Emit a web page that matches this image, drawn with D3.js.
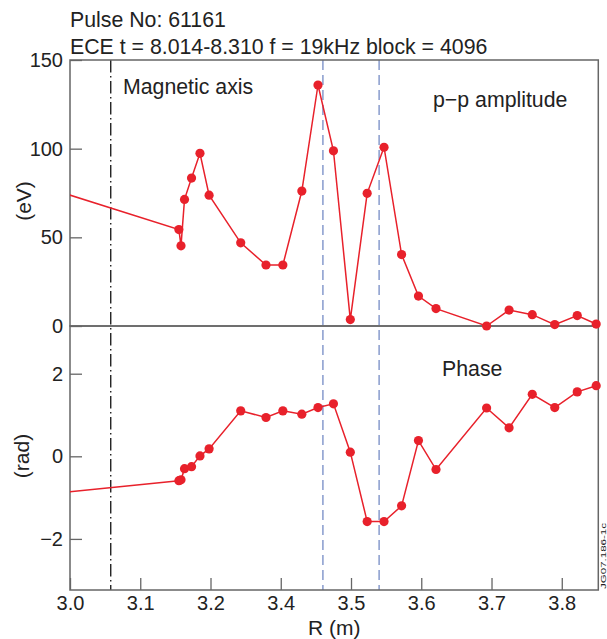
<!DOCTYPE html>
<html lang="en">
<head>
    <meta charset="utf-8">
    <script src='https://d3js.org/d3.v7.min.js'> </script>
    <title>ECE p-p amplitude and phase</title>
    <style>
      body { margin: 0; background: #fff; }
      text { font-family: "Liberation Sans", Arial, sans-serif; fill: #222; }
    </style>
</head>
<body>
<script>
// ECE channels: major radius (m), p-p amplitude (eV), phase (rad)
// first point sits left of the plotted range, only its line shows
const radius = [3.000, 3.255, 3.258, 3.263, 3.273, 3.285, 3.298, 3.343, 3.379, 3.403,
                3.430, 3.453, 3.475, 3.499, 3.523, 3.547, 3.572, 3.596, 3.621, 3.693,
                3.725, 3.758, 3.790, 3.822, 3.849];
const amplitude = [86.3, 54.4, 45.2, 71.4, 83.4, 97.4, 73.8, 46.9, 34.4, 34.4,
                   76.1, 135.9, 98.8, 3.6, 74.8, 100.8, 40.3, 16.9, 9.8, 0.0,
                   9.0, 6.4, 0.8, 5.9, 1.1];
const phase = [-1.03, -0.59, -0.57, -0.30, -0.25, 0.01, 0.18, 1.10, 0.94, 1.10,
               1.02, 1.18, 1.27, 0.10, -1.58, -1.58, -1.20, 0.38, -0.32, 1.17,
               0.69, 1.50, 1.18, 1.56, 1.71];

// vertical markers
const magAxis = 3.158;
const modeLines = [3.46, 3.54];

// tick labels as printed on the original figure
const xTicks = [3.1, 3.2, 3.3, 3.4, 3.5, 3.6, 3.7, 3.8];
const xTickLabels = ["3.0", "3.1", "3.2", "3.4", "3.5", "3.6", "3.7", "3.8"];
const ampTicks = [0, 50, 100, 150];
const phaseTicks = [-2, 0, 2];

const data = radius.map(function(r, i) {
  return {r: r, amp: amplitude[i], ph: phase[i]};
});

// layout
const pLeft = 70, pRight = 598.3, pTop = 60, pMid = 326, pBottom = 590;
const red = "#e8212b", frameCol = "#666";

var svg = d3.select("body").append("svg")
    .attr("width", 607)
    .attr("height", 639);

var x = d3.scaleLinear().domain([3.1, 3.852]).range([pLeft, pRight]);
var yAmp = d3.scaleLinear().domain([0, 150]).range([pMid, pTop]);
var yPh = d3.scaleLinear().domain([-3.237, 3.155]).range([pBottom, pMid]);

svg.append("clipPath").attr("id", "clip")
  .append("rect")
    .attr("x", pLeft).attr("y", pTop)
    .attr("width", pRight - pLeft).attr("height", pBottom - pTop);

// titles
svg.append("text").attr("x", 70).attr("y", 27)
  .style("font-size", "21.3px").text("Pulse No: 61161");
svg.append("text").attr("x", 70).attr("y", 54)
  .style("font-size", "21.3px").text("ECE t = 8.014-8.310 f = 19kHz block = 4096");

// vertical markers
svg.append("line")
  .attr("x1", x(magAxis)).attr("x2", x(magAxis))
  .attr("y1", pTop).attr("y2", pBottom)
  .attr("stroke", "#111").attr("stroke-width", 1.3)
  .attr("stroke-dasharray", "12.5,3.5,1.5,3.5");

svg.selectAll(".mode").data(modeLines).enter().append("line")
  .attr("class", "mode")
  .attr("x1", function(d) { return x(d); })
  .attr("x2", function(d) { return x(d); })
  .attr("y1", pTop).attr("y2", pBottom)
  .attr("stroke", "#7f94c9").attr("stroke-width", 1.4)
  .attr("stroke-dasharray", "10,5");

// axes with inward ticks
function styleAxis(g) {
  g.select(".domain").remove();
  g.selectAll(".tick line").attr("stroke", frameCol).attr("stroke-width", 1.3);
  g.selectAll(".tick text").style("font-size", "20px").attr("fill", "#222");
}

svg.append("g")
  .attr("transform", "translate(" + pLeft + ",0)")
  .call(d3.axisLeft(yAmp).tickValues(ampTicks).tickSizeInner(-12).tickSizeOuter(0).tickPadding(7))
  .call(styleAxis);

svg.append("g")
  .attr("transform", "translate(" + pLeft + ",0)")
  .call(d3.axisLeft(yPh).tickValues(phaseTicks).tickFormat(d3.format("d"))
    .tickSizeInner(-12).tickSizeOuter(0).tickPadding(7))
  .call(styleAxis);

svg.append("g")
  .attr("transform", "translate(0," + pBottom + ")")
  .call(d3.axisBottom(x).tickValues(xTicks)
    .tickFormat(function(d, i) { return xTickLabels[i]; })
    .tickSizeInner(-12).tickSizeOuter(0).tickPadding(6))
  .call(styleAxis);

// frame
[[pTop, pMid], [pMid, pBottom]].forEach(function(p) {
  svg.append("rect")
    .attr("x", pLeft).attr("y", p[0])
    .attr("width", pRight - pLeft).attr("height", p[1] - p[0])
    .attr("fill", "none").attr("stroke", frameCol).attr("stroke-width", 1.5);
});

// series
function drawSeries(yScale, key) {
  var line = d3.line()
    .x(function(d) { return x(d.r); })
    .y(function(d) { return yScale(d[key]); });

  svg.append("path")
    .datum(data)
    .attr("clip-path", "url(#clip)")
    .attr("fill", "none")
    .attr("stroke", red)
    .attr("stroke-width", 1.5)
    .attr("d", line);

  svg.append("g").selectAll("circle")
    .data(data.filter(function(d) { return d.r >= x.domain()[0]; }))
    .enter().append("circle")
      .attr("cx", function(d) { return x(d.r); })
      .attr("cy", function(d) { return yScale(d[key]); })
      .attr("r", 4.6)
      .attr("fill", red);
}
drawSeries(yAmp, "amp");
drawSeries(yPh, "ph");

// labels
svg.append("text").attr("x", 123).attr("y", 94)
  .style("font-size", "21.3px").text("Magnetic axis");
svg.append("text").attr("x", 433).attr("y", 107)
  .style("font-size", "21.3px").text("p\u2212p amplitude");
svg.append("text").attr("x", 442).attr("y", 376)
  .style("font-size", "21.3px").text("Phase");

svg.append("text")
  .attr("transform", "translate(31,201) rotate(-90)")
  .attr("text-anchor", "middle")
  .style("font-size", "21px").text("(eV)");
svg.append("text")
  .attr("transform", "translate(29,456) rotate(-90)")
  .attr("text-anchor", "middle")
  .style("font-size", "21px").text("(rad)");
svg.append("text")
  .attr("x", (pLeft + pRight) / 2).attr("y", 635)
  .attr("text-anchor", "middle")
  .style("font-size", "21px").text("R (m)");

// figure reference
svg.append("text")
  .attr("transform", "translate(605.5,589) rotate(-90)")
  .attr("textLength", 66).attr("lengthAdjust", "spacingAndGlyphs")
  .style("font-size", "7.5px").text("JG07.186-1c");
</script>
</body>
</html>
